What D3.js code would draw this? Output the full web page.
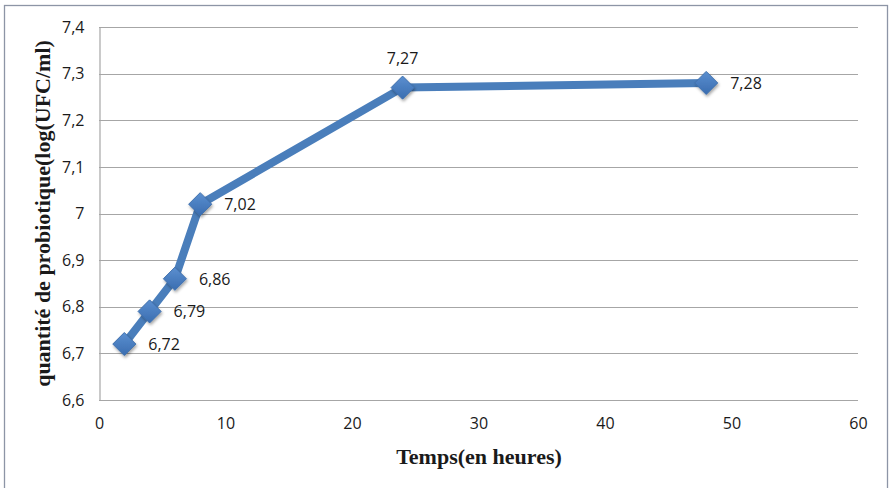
<!DOCTYPE html>
<html>
<head>
<meta charset="utf-8">
<script src="https://cdn.jsdelivr.net/npm/d3@7"></script>
<style>
  html, body { margin: 0; padding: 0; background: #fff; }
  svg { display: block; }
</style>
</head>
<body>
<svg id="chart" width="890" height="488"></svg>
<script>
// Probiotic count over time
const hours = [2, 4, 6, 8, 24, 48];
const counts = [6.72, 6.79, 6.86, 7.02, 7.27, 7.28];
const countLabels = ["6,72", "6,79", "6,86", "7,02", "7,27", "7,28"];
const xTicks = [0, 10, 20, 30, 40, 50, 60];
const yTicks = [6.6, 6.7, 6.8, 6.9, 7.0, 7.1, 7.2, 7.3, 7.4];
const yTickLabels = ["6,6", "6,7", "6,8", "6,9", "7", "7,1", "7,2", "7,3", "7,4"];
const xTitle = "Temps(en heures)";
const yTitle = "quantité de probiotique(log(UFC/ml)";

const svg = d3.select("#chart");
const plot = { left: 99, right: 858, top: 27, bottom: 400 };

const x = d3.scaleLinear().domain([0, 60]).range([plot.left, plot.right]);
const y = d3.scaleLinear().domain([6.6, 7.4]).range([plot.bottom, plot.top]);

const labelFont = "'Open Sans', sans-serif";
const titleFont = "'Liberation Serif', serif";

// outer frame
svg.append("rect")
  .attr("x", 4.5).attr("y", 5.5)
  .attr("width", 883).attr("height", 490)
  .attr("fill", "none").attr("stroke", "#8d95a6").attr("stroke-width", 1.3);

const defs = svg.append("defs");
const grad = defs.append("linearGradient").attr("id", "mk")
  .attr("x1", 0).attr("y1", 0).attr("x2", 0).attr("y2", 1);
grad.append("stop").attr("offset", 0).attr("stop-color", "#5b8fd0");
grad.append("stop").attr("offset", 1).attr("stop-color", "#3a6db0");
const shadow = defs.append("filter").attr("id", "sh")
  .attr("x", "-50%").attr("y", "-50%").attr("width", "200%").attr("height", "200%");
shadow.append("feDropShadow").attr("dx", 1).attr("dy", 2).attr("stdDeviation", 1.6)
  .attr("flood-color", "#000").attr("flood-opacity", 0.35);

// horizontal gridlines
svg.append("g")
  .selectAll("line").data(yTicks).join("line")
  .attr("x1", plot.left).attr("x2", plot.right)
  .attr("y1", d => Math.round(y(d)) + 0.5).attr("y2", d => Math.round(y(d)) + 0.5)
  .attr("stroke", "#a6a6a6").attr("stroke-width", 1.2);

// y axis
const yAxis = d3.axisLeft(y).tickValues(yTicks)
  .tickFormat((d, i) => yTickLabels[i]).tickSize(0).tickPadding(15);
const gy = svg.append("g").attr("transform", `translate(${plot.left + 0.5},0)`).call(yAxis);
gy.select(".domain").attr("stroke", "#a6a6a6").attr("stroke-width", 1.2);
gy.selectAll("text").attr("font-family", labelFont)
  .attr("font-size", 16).attr("fill", "#1a1a1a");

// x axis
const xAxis = d3.axisBottom(x).tickValues(xTicks).tickSize(0).tickPadding(17);
const gx = svg.append("g").attr("transform", `translate(0,${plot.bottom + 0.5})`).call(xAxis);
gx.select(".domain").remove();
gx.selectAll("text").attr("font-family", labelFont)
  .attr("font-size", 16).attr("fill", "#1a1a1a");

// axis titles
svg.append("text")
  .attr("x", 479).attr("y", 464)
  .attr("text-anchor", "middle")
  .attr("font-family", titleFont)
  .attr("font-weight", "bold").attr("font-size", 22).attr("fill", "#1a1a1a")
  .text(xTitle);
svg.append("text")
  .attr("transform", `translate(50,${(plot.top + plot.bottom) / 2}) rotate(-90)`)
  .attr("text-anchor", "middle")
  .attr("font-family", titleFont)
  .attr("font-weight", "bold").attr("font-size", 22).attr("fill", "#1a1a1a")
  .text(yTitle);

const pts = hours.map((h, i) => ({ h, v: counts[i], label: countLabels[i], i }));

// series line
svg.append("path")
  .datum(pts)
  .attr("d", d3.line().x(d => x(d.h)).y(d => y(d.v)))
  .attr("fill", "none").attr("stroke", "#4a7ebb").attr("stroke-width", 8)
  .attr("stroke-linejoin", "round");

// diamond markers
const diamond = d3.symbol().type(d3.symbolDiamond2).size(340);
svg.append("g").selectAll("path").data(pts).join("path")
  .attr("transform", d => `translate(${x(d.h)},${y(d.v)})`)
  .attr("d", diamond)
  .attr("fill", "url(#mk)")
  .attr("stroke", "#3f70ad").attr("stroke-width", 1)
  .attr("filter", "url(#sh)");

// data labels
svg.append("g").selectAll("text").data(pts).join("text")
  .attr("x", d => d.i === 4 ? x(d.h) : x(d.h) + 24)
  .attr("y", d => d.i === 4 ? y(d.v) - 24 : y(d.v) + 6)
  .attr("text-anchor", d => d.i === 4 ? "middle" : "start")
  .attr("font-family", labelFont)
  .attr("font-size", 16).attr("fill", "#1a1a1a")
  .text(d => d.label);
</script>
</body>
</html>
